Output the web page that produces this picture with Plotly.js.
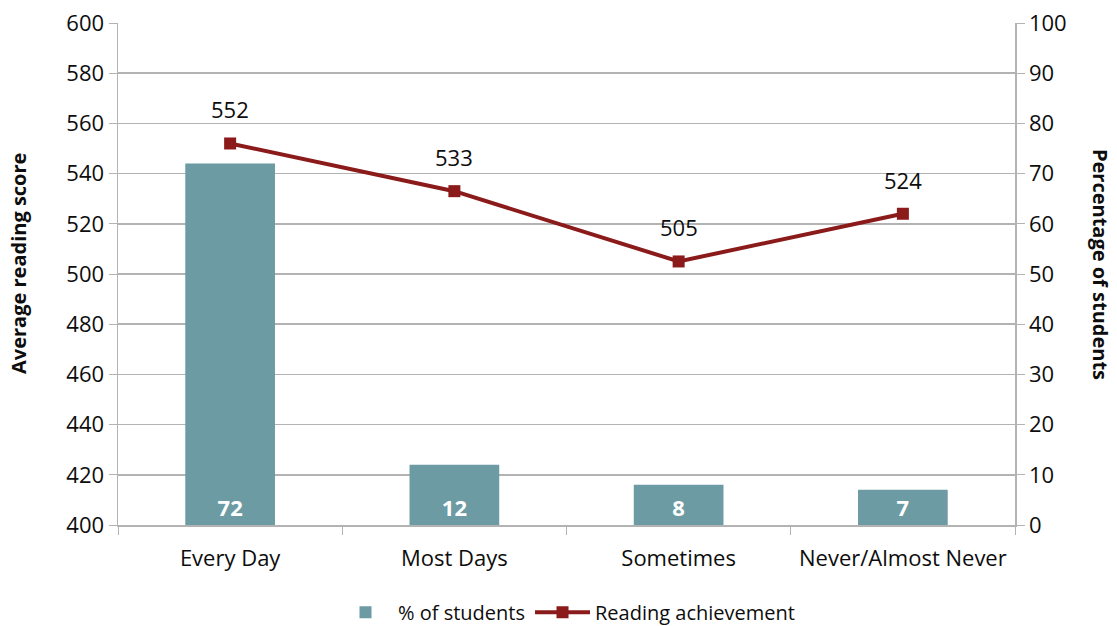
<!DOCTYPE html>
<html>
<head>
<meta charset="utf-8">
<script src="https://cdn.plot.ly/plotly-3.0.1.min.js"></script>
<style>html,body{margin:0;padding:0;background:#fff;}#chart{width:1117px;height:626px;}</style>
</head>
<body>
<div id="chart"></div>
<script>
const categories = ["Every Day", "Most Days", "Sometimes", "Never/Almost Never"];
const pctStudents = [72, 12, 8, 7];
const readingScore = [552, 533, 505, 524];
const leftTicks = [400, 420, 440, 460, 480, 500, 520, 540, 560, 580, 600];
const rightTicks = [0, 10, 20, 30, 40, 50, 60, 70, 80, 90, 100];

const FONT = "'Open Sans', Lato, sans-serif";
const GRID = "#b3b3b3";
const TXT = "#0d0d0d";

const traces = [
  {
    type: "bar",
    name: "% of students",
    x: categories,
    y: pctStudents,
    yaxis: "y",
    width: 0.4,
    marker: {color: "#6c9ba3"},
    text: pctStudents.map(String),
    textposition: "inside",
    insidetextanchor: "start",
    textangle: 0,
    constraintext: "none",
    textfont: {family: FONT, size: 22, color: "#ffffff", weight: "bold"},
    hoverinfo: "skip"
  },
  {
    type: "scatter",
    mode: "lines+markers",
    name: "Reading achievement",
    x: categories,
    y: readingScore,
    yaxis: "y2",
    line: {color: "#8b1a1a", width: 4},
    marker: {symbol: "square", size: 12, color: "#8b1a1a"},
    hoverinfo: "skip"
  }
];

const annotations = readingScore.map((v, i) => ({
  x: categories[i], y: v, xref: "x", yref: "y2",
  text: String(v), showarrow: false, yshift: 34,
  font: {family: FONT, size: 22, color: TXT}
}));
annotations.push({
  xref: "paper", yref: "paper", x: 0, y: 0.52, xshift: -99,
  xanchor: "center", yanchor: "middle",
  text: "<b>Average reading score</b>", textangle: -90, showarrow: false,
  font: {family: FONT, size: 20, color: TXT}
});
annotations.push({
  xref: "paper", yref: "paper", x: 1, y: 0.52, xshift: 85,
  xanchor: "center", yanchor: "middle",
  text: "<b>Percentage of students</b>", textangle: 90, showarrow: false,
  font: {family: FONT, size: 20, color: TXT}
});

const layout = {
  width: 1117, height: 626,
  margin: {l: 118, r: 102, t: 23, b: 101},
  paper_bgcolor: "#fff", plot_bgcolor: "#fff",
  font: {family: FONT, size: 22, color: TXT},
  showlegend: true,
  legend: {orientation: "h", x: 0.5, xanchor: "center", xref: "paper",
           yref: "container", y: 0.022, yanchor: "middle",
           itemwidth: 55,
           font: {family: FONT, size: 20, color: TXT}, traceorder: "normal"},
  xaxis: {
    type: "category", tickson: "boundaries", ticks: "outside", ticklen: 8,
    tickcolor: GRID, showline: true, linecolor: GRID, linewidth: 1.5,
    showgrid: false, tickfont: {family: FONT, size: 22, color: TXT},
    ticklabelstandoff: 13
  },
  yaxis: {
    side: "right", range: [0, 100], tickvals: rightTicks, ticktext: rightTicks.map(String),
    ticks: "outside", ticklen: 8, tickcolor: GRID, showline: true, linecolor: GRID, linewidth: 1.5,
    showgrid: true, gridcolor: GRID, gridwidth: 1.5, zeroline: false,
    tickfont: {family: FONT, size: 22, color: TXT}, fixedrange: true
  },
  yaxis2: {
    side: "left", overlaying: "y", range: [400, 600], tickvals: leftTicks, ticktext: leftTicks.map(String),
    ticks: "outside", ticklen: 8, tickcolor: GRID, showline: true, linecolor: GRID, linewidth: 1.5,
    showgrid: false, zeroline: false,
    tickfont: {family: FONT, size: 22, color: TXT}, fixedrange: true
  },
  annotations: annotations
};

Plotly.newPlot("chart", traces, layout, {displayModeBar: false, staticPlot: true});
</script>
</body>
</html>
